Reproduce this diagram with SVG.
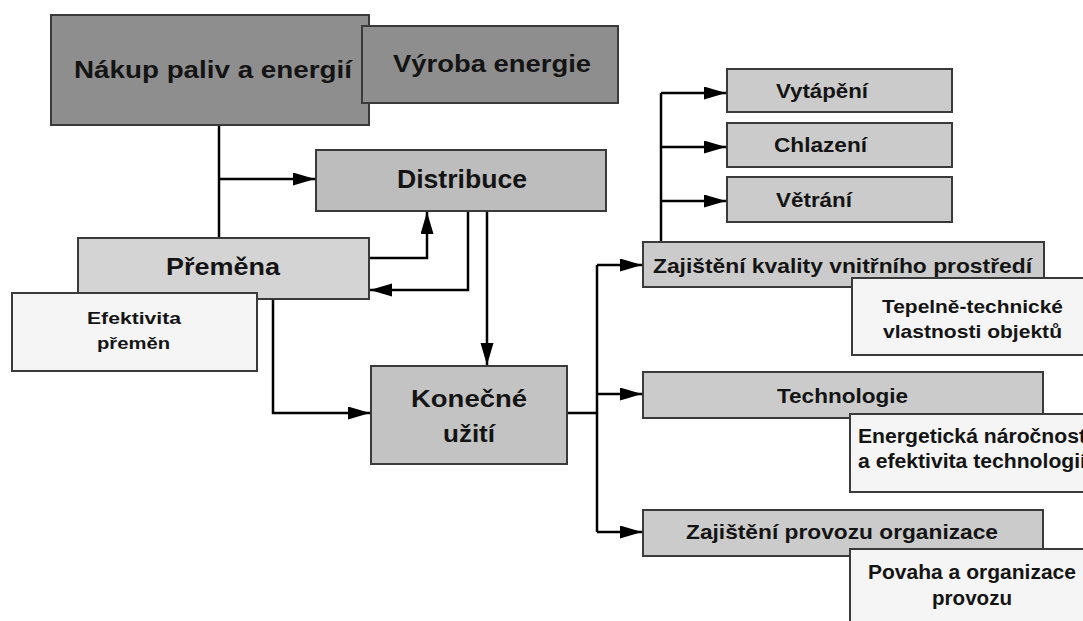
<svg xmlns="http://www.w3.org/2000/svg" width="1083" height="621" viewBox="0 0 1083 621">
<style>
.b{stroke:#3a3a3a;stroke-width:2}
.dk{fill:#8e8e8e}
.md{fill:#bdbdbd}
.lt{fill:#d4d4d4}
.gr{fill:#cbcbcb}
.wh{fill:#f5f5f5}
text{font-family:"Liberation Sans",Arial,sans-serif;font-weight:bold;fill:#141414}
.c{stroke:#000;stroke-width:2.5;fill:none}
</style>
<defs>
<marker id="ah" markerUnits="userSpaceOnUse" markerWidth="24" markerHeight="14" refX="22" refY="6.5" orient="auto">
<path d="M0,0 L22,6.5 L0,13 z" fill="#000"/>
</marker>
</defs>
<rect width="1083" height="621" fill="#fff"/>
<g id="connectors">
<path class="c" d="M219,125 V238"/>
<path class="c" d="M219,179 H315" marker-end="url(#ah)"/>
<path class="c" d="M369,258 H427 V212" marker-end="url(#ah)"/>
<path class="c" d="M468,211 V290 H370" marker-end="url(#ah)"/>
<path class="c" d="M487,211 V365" marker-end="url(#ah)"/>
<path class="c" d="M273,299 V413 H370" marker-end="url(#ah)"/>
<path class="c" d="M567,413 H597"/>
<path class="c" d="M597,265 V532"/>
<path class="c" d="M597,265 H642" marker-end="url(#ah)"/>
<path class="c" d="M597,394 H642" marker-end="url(#ah)"/>
<path class="c" d="M597,532 H642" marker-end="url(#ah)"/>
<path class="c" d="M661,242 V93"/>
<path class="c" d="M661,93 H726" marker-end="url(#ah)"/>
<path class="c" d="M661,147 H726" marker-end="url(#ah)"/>
<path class="c" d="M661,201 H726" marker-end="url(#ah)"/>
</g>
<g id="nakup">
<rect class="b dk" x="51" y="15" width="318" height="110"/>
<text x="74" y="78" font-size="23" textLength="278" lengthAdjust="spacingAndGlyphs">Nákup paliv a energií</text>
</g>
<g id="vyroba">
<rect class="b dk" x="362" y="26" width="256" height="77"/>
<text x="393" y="72" font-size="24" textLength="198" lengthAdjust="spacingAndGlyphs">Výroba energie</text>
</g>
<g id="distribuce">
<rect class="b md" x="316" y="150" width="290" height="61"/>
<text x="397" y="188" font-size="26" textLength="130" lengthAdjust="spacingAndGlyphs">Distribuce</text>
</g>
<g id="premena">
<rect class="b lt" x="78" y="238" width="291" height="61"/>
<text x="166" y="275" font-size="24" textLength="114" lengthAdjust="spacingAndGlyphs">Přeměna</text>
</g>
<g id="efektivita">
<rect class="b wh" x="12" y="293" width="245" height="78"/>
<text x="87" y="324" font-size="17" textLength="94" lengthAdjust="spacingAndGlyphs">Efektivita</text>
<text x="97" y="349" font-size="17" textLength="73" lengthAdjust="spacingAndGlyphs">přeměn</text>
</g>
<g id="konecne">
<rect class="b" fill="#c3c3c3" x="371" y="366" width="196" height="98"/>
<text x="411" y="407" font-size="24" textLength="116" lengthAdjust="spacingAndGlyphs">Konečné</text>
<text x="443" y="442" font-size="24" textLength="52" lengthAdjust="spacingAndGlyphs">užití</text>
</g>
<g id="vytapeni">
<rect class="b gr" x="727" y="69" width="225" height="43"/>
<text x="776" y="98" font-size="21" textLength="92" lengthAdjust="spacingAndGlyphs">Vytápění</text>
</g>
<g id="chlazeni">
<rect class="b gr" x="727" y="123" width="225" height="44"/>
<text x="774" y="152" font-size="21" textLength="93" lengthAdjust="spacingAndGlyphs">Chlazení</text>
</g>
<g id="vetrani">
<rect class="b gr" x="727" y="177" width="225" height="45"/>
<text x="776" y="207" font-size="21" textLength="76" lengthAdjust="spacingAndGlyphs">Větrání</text>
</g>
<g id="kvalita">
<rect class="b gr" x="643" y="242" width="401" height="45"/>
<text x="653" y="273" font-size="21" textLength="379" lengthAdjust="spacingAndGlyphs">Zajištění kvality vnitřního prostředí</text>
</g>
<g id="tepelne">
<rect class="b wh" x="852" y="278" width="245" height="77"/>
<text x="882" y="313" font-size="19" textLength="181" lengthAdjust="spacingAndGlyphs">Tepelně-technické</text>
<text x="883" y="338" font-size="19" textLength="179" lengthAdjust="spacingAndGlyphs">vlastnosti objektů</text>
</g>
<g id="technologie">
<rect class="b gr" x="643" y="372" width="400" height="46"/>
<text x="777" y="403" font-size="21" textLength="131" lengthAdjust="spacingAndGlyphs">Technologie</text>
</g>
<g id="energeticka">
<rect class="b wh" x="850" y="414" width="245" height="78"/>
<text x="858" y="443" font-size="20" textLength="228" lengthAdjust="spacingAndGlyphs">Energetická náročnost</text>
<text x="858" y="468" font-size="20" textLength="228" lengthAdjust="spacingAndGlyphs">a efektivita technologií</text>
</g>
<g id="provoz">
<rect class="b gr" x="643" y="510" width="400" height="46"/>
<text x="686" y="539" font-size="21" textLength="312" lengthAdjust="spacingAndGlyphs">Zajištění provozu organizace</text>
</g>
<g id="povaha">
<rect class="b wh" x="850" y="549" width="245" height="85"/>
<text x="868" y="579" font-size="20" textLength="208" lengthAdjust="spacingAndGlyphs">Povaha a organizace</text>
<text x="932" y="605" font-size="20" textLength="80" lengthAdjust="spacingAndGlyphs">provozu</text>
</g>
</svg>
